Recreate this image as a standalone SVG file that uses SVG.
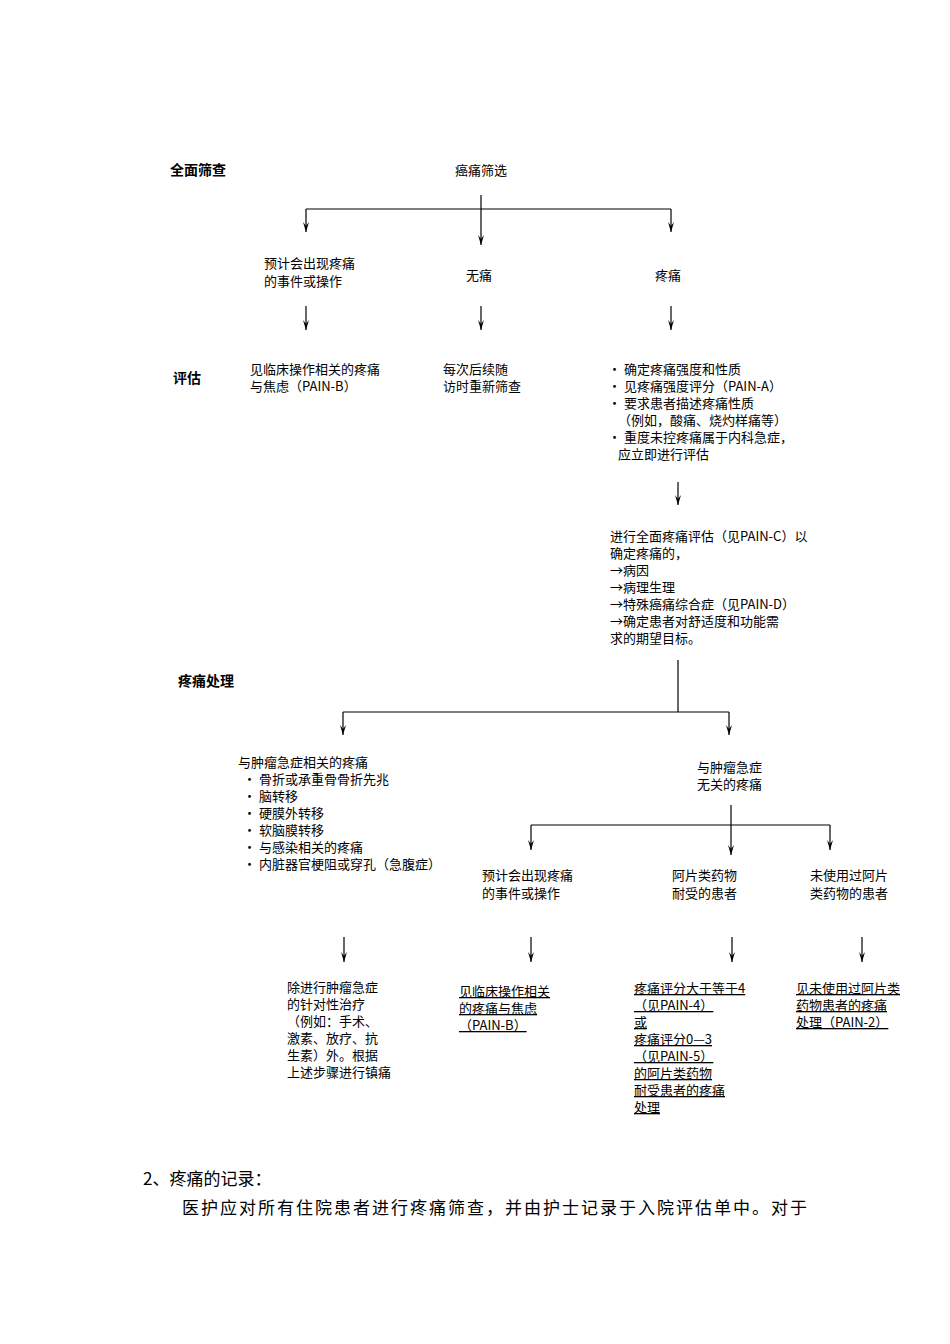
<svg xmlns="http://www.w3.org/2000/svg" width="950" height="1344" viewBox="0 0 950 1344">
<defs><marker id="a" markerWidth="10" markerHeight="8" refX="10" refY="4" orient="auto" markerUnits="userSpaceOnUse" viewBox="0 0 10 8"><path d="M0,1 L10,4 L0,7 L4,4 Z" fill="#000"/></marker></defs>
<style>
text{font-family:"Noto Sans CJK SC",sans-serif;font-size:13px;fill:#000}
.b{font-weight:bold;font-size:14px}
.u{text-decoration:underline}
.s{font-family:"Noto Sans CJK SC",serif;font-size:17px}
line{stroke:#000;stroke-width:1.2;fill:none}
.ar{marker-end:url(#a)}
</style>
<rect width="950" height="1344" fill="#fff"/>
<g id="connectors">
<line x1="481" y1="195" x2="481" y2="245" class="ar"/>
<line x1="306" y1="209" x2="671" y2="209"/>
<line x1="306" y1="209" x2="306" y2="232" class="ar"/>
<line x1="671" y1="209" x2="671" y2="232" class="ar"/>
<line x1="306" y1="306" x2="306" y2="330" class="ar"/>
<line x1="481" y1="306" x2="481" y2="330" class="ar"/>
<line x1="671" y1="306" x2="671" y2="330" class="ar"/>
<line x1="678" y1="482" x2="678" y2="505" class="ar"/>
<line x1="678" y1="660" x2="678" y2="712"/>
<line x1="343" y1="712" x2="729" y2="712"/>
<line x1="343" y1="712" x2="343" y2="735" class="ar"/>
<line x1="729" y1="712" x2="729" y2="735" class="ar"/>
<line x1="731" y1="805" x2="731" y2="855" class="ar"/>
<line x1="531" y1="825" x2="830" y2="825"/>
<line x1="531" y1="825" x2="531" y2="850" class="ar"/>
<line x1="830" y1="825" x2="830" y2="850" class="ar"/>
<line x1="344" y1="937" x2="344" y2="962" class="ar"/>
<line x1="531" y1="937" x2="531" y2="962" class="ar"/>
<line x1="732" y1="937" x2="732" y2="962" class="ar"/>
<line x1="862" y1="937" x2="862" y2="962" class="ar"/>
</g>
<g id="labels"><text x="170" y="175" class="b">全面筛查</text><text x="173" y="383" class="b">评估</text><text x="178" y="686" class="b">疼痛处理</text></g>
<g id="n_screen"><text x="455" y="175">癌痛筛选</text></g>
<g id="n_expect1"><text x="264" y="268">预计会出现疼痛</text><text x="264" y="286">的事件或操作</text></g>
<g id="n_nopain"><text x="466" y="280">无痛</text></g>
<g id="n_pain"><text x="655" y="280">疼痛</text></g>
<g id="n_seeB1"><text x="250" y="374">见临床操作相关的疼痛</text><text x="250" y="391">与焦虑（PAIN-B）</text></g>
<g id="n_rescreen"><text x="443" y="374">每次后续随</text><text x="443" y="391">访时重新筛查</text></g>
<g id="n_assess"><text x="608" y="374">• 确定疼痛强度和性质</text><text x="608" y="391">• 见疼痛强度评分（PAIN-A）</text><text x="608" y="408">• 要求患者描述疼痛性质</text><text x="618" y="425">（例如，酸痛、烧灼样痛等）</text><text x="608" y="442">• 重度未控疼痛属于内科急症，</text><text x="618" y="459">应立即进行评估</text></g>
<g id="n_full"><text x="610" y="541">进行全面疼痛评估（见PAIN-C）以</text><text x="610" y="558">确定疼痛的，</text><text x="610" y="575">→病因</text><text x="610" y="592">→病理生理</text><text x="610" y="609">→特殊癌痛综合症（见PAIN-D）</text><text x="610" y="626">→确定患者对舒适度和功能需</text><text x="610" y="643">求的期望目标。</text></g>
<g id="n_emerg"><text x="238" y="767">与肿瘤急症相关的疼痛</text><text x="243" y="784">• 骨折或承重骨骨折先兆</text><text x="243" y="801">• 脑转移</text><text x="243" y="818">• 硬膜外转移</text><text x="243" y="835">• 软脑膜转移</text><text x="243" y="852">• 与感染相关的疼痛</text><text x="243" y="869">• 内脏器官梗阻或穿孔（急腹症）</text></g>
<g id="n_nonemerg"><text x="697" y="772">与肿瘤急症</text><text x="697" y="789">无关的疼痛</text></g>
<g id="n_expect2"><text x="482" y="880">预计会出现疼痛</text><text x="482" y="898">的事件或操作</text></g>
<g id="n_tolerant"><text x="672" y="880">阿片类药物</text><text x="672" y="898">耐受的患者</text></g>
<g id="n_naive"><text x="810" y="880">未使用过阿片</text><text x="810" y="898">类药物的患者</text></g>
<g id="n_treat"><text x="287" y="992">除进行肿瘤急症</text><text x="287" y="1009">的针对性治疗</text><text x="287" y="1026">（例如：手术、</text><text x="287" y="1043">激素、放疗、抗</text><text x="287" y="1060">生素）外。根据</text><text x="287" y="1077">上述步骤进行镇痛</text></g>
<g id="n_seeB2"><text x="459" y="996" class="u">见临床操作相关</text><text x="459" y="1013" class="u">的疼痛与焦虑</text><text x="459" y="1030" class="u">（PAIN-B）</text></g>
<g id="n_pain45"><text x="634" y="993" class="u">疼痛评分大于等于4</text><text x="634" y="1010" class="u">（见PAIN-4）</text><text x="634" y="1027" class="u">或</text><text x="634" y="1044" class="u">疼痛评分0—3</text><text x="634" y="1061" class="u">（见PAIN-5）</text><text x="634" y="1078" class="u">的阿片类药物</text><text x="634" y="1095" class="u">耐受患者的疼痛</text><text x="634" y="1112" class="u">处理</text></g>
<g id="n_pain2"><text x="796" y="993" class="u">见未使用过阿片类</text><text x="796" y="1010" class="u">药物患者的疼痛</text><text x="796" y="1027" class="u">处理（PAIN-2）</text></g>
<g id="footer"><text x="143" y="1185" class="s">2、疼痛的记录：</text><text x="182" y="1214" class="s" letter-spacing="2">医护应对所有住院患者进行疼痛筛查，并由护士记录于入院评估单中。对于</text></g>
</svg>
